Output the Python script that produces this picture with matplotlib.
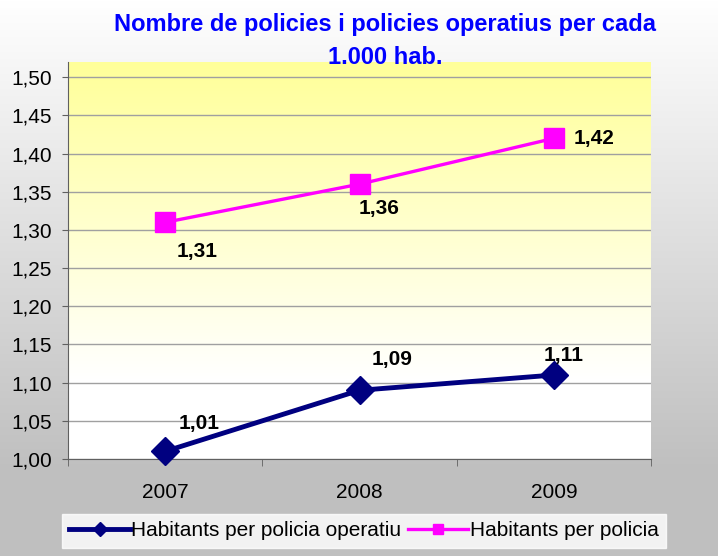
import numpy as np
import matplotlib
matplotlib.use('Agg')
import matplotlib.pyplot as plt
from matplotlib.ticker import FuncFormatter

# data
years = ['2007', '2008', '2009']
operatiu = [1.01, 1.09, 1.11]
policia = [1.31, 1.36, 1.42]
# label offsets in pixels (dx, dy), dy positive = up
off_operatiu = [(34, 28), (33, 31), (10, 20)]
off_policia = [(32, -29), (20, -24), (40, 0)]

plt.rcParams['font.family'] = ['Liberation Sans', 'DejaVu Sans']

fig = plt.figure(figsize=(7.18, 5.56), dpi=100)

# figure background gradient (white -> grey)
bg = fig.add_axes([0, 0, 1, 1], zorder=-10)
grad = np.linspace(0, 1, 556).reshape(-1, 1)
grad = np.clip(grad * 556 / 470, 0, 1)
top = np.array([1.0, 1.0, 1.0])
bot = np.array([0.75, 0.75, 0.75])
img = top + (bot - top) * grad[..., None]
bg.imshow(img, aspect='auto', extent=[0, 1, 0, 1], origin='upper')
bg.axis('off')

ax = fig.add_axes([68 / 718, 1 - 459 / 556, 583 / 718, 397 / 556])
ax.set_facecolor('none')
ax.set_xlim(-0.5, 2.5)
ax.set_ylim(1.0, 1.52)

# plot area gradient (yellow -> white)
g = np.linspace(0, 1, 256).reshape(-1, 1)
g = np.clip(g * 1.25, 0, 1)
yel = np.array([1.0, 1.0, 0.6])
wht = np.array([1.0, 1.0, 1.0])
pimg = yel + (wht - yel) * g[..., None]
ax.imshow(pimg, aspect='auto', extent=[-0.5, 2.5, 1.0, 1.52], origin='upper', zorder=0)

x = np.arange(len(years))
ax.set_yticks(np.arange(1.0, 1.501, 0.05))
ax.yaxis.set_major_formatter(FuncFormatter(lambda v, p: ('%.2f' % v).replace('.', ',')))
ax.grid(axis='y', color='#a0a0a0', linewidth=1, zorder=1)
ax.set_xticks(x)
ax.set_xticklabels(years)
ax.set_xticks([-0.5, 0.5, 1.5, 2.5], minor=True)
ax.tick_params(axis='x', which='major', length=0, pad=17, labelsize=15)
ax.tick_params(axis='x', which='minor', length=5, color='#606060')
ax.tick_params(axis='y', length=4, color='#606060', labelsize=15, pad=7.5)

for s in ['top', 'right']:
    ax.spines[s].set_visible(False)
for s in ['left', 'bottom']:
    ax.spines[s].set_color('#606060')

ax.plot(x, operatiu, color='#000080', linewidth=3.5, marker='D', markersize=14,
        label='Habitants per policia operatiu', zorder=3, clip_on=False)
ax.plot(x, policia, color='#FF00FF', linewidth=2.4, marker='s', markersize=14,
        label='Habitants per policia', zorder=3, clip_on=False)

for xi, v, (dx, dy) in zip(x, operatiu, off_operatiu):
    ax.annotate(('%.2f' % v).replace('.', ','), (xi, v), xytext=(dx * 0.72, dy * 0.72),
                textcoords='offset points', ha='center', va='center',
                fontsize=15, fontweight='bold', zorder=4)
for xi, v, (dx, dy) in zip(x, policia, off_policia):
    ax.annotate(('%.2f' % v).replace('.', ','), (xi, v), xytext=(dx * 0.72, dy * 0.72),
                textcoords='offset points', ha='center', va='center',
                fontsize=15, fontweight='bold', zorder=4)

fig.text(385 / 718, 1 - 24 / 556, 'Nombre de policies i policies operatius per cada',
         ha='center', va='center', color='#0000FF', fontsize=17, fontweight='bold')
fig.text(385 / 718, 1 - 57 / 556, '1.000 hab.',
         ha='center', va='center', color='#0000FF', fontsize=17, fontweight='bold', zorder=5)

leg = fig.legend(loc='center', bbox_to_anchor=(364 / 718, 1 - 531 / 556), ncol=2,
                 fontsize=15, frameon=True, fancybox=False, handlelength=2.9,
                 handletextpad=0.08, columnspacing=0.3, borderpad=0.35,
                 markerscale=0.5)
leg.get_frame().set_facecolor('white')
leg.get_frame().set_edgecolor('white')

fig.savefig('out.png', dpi=100)
